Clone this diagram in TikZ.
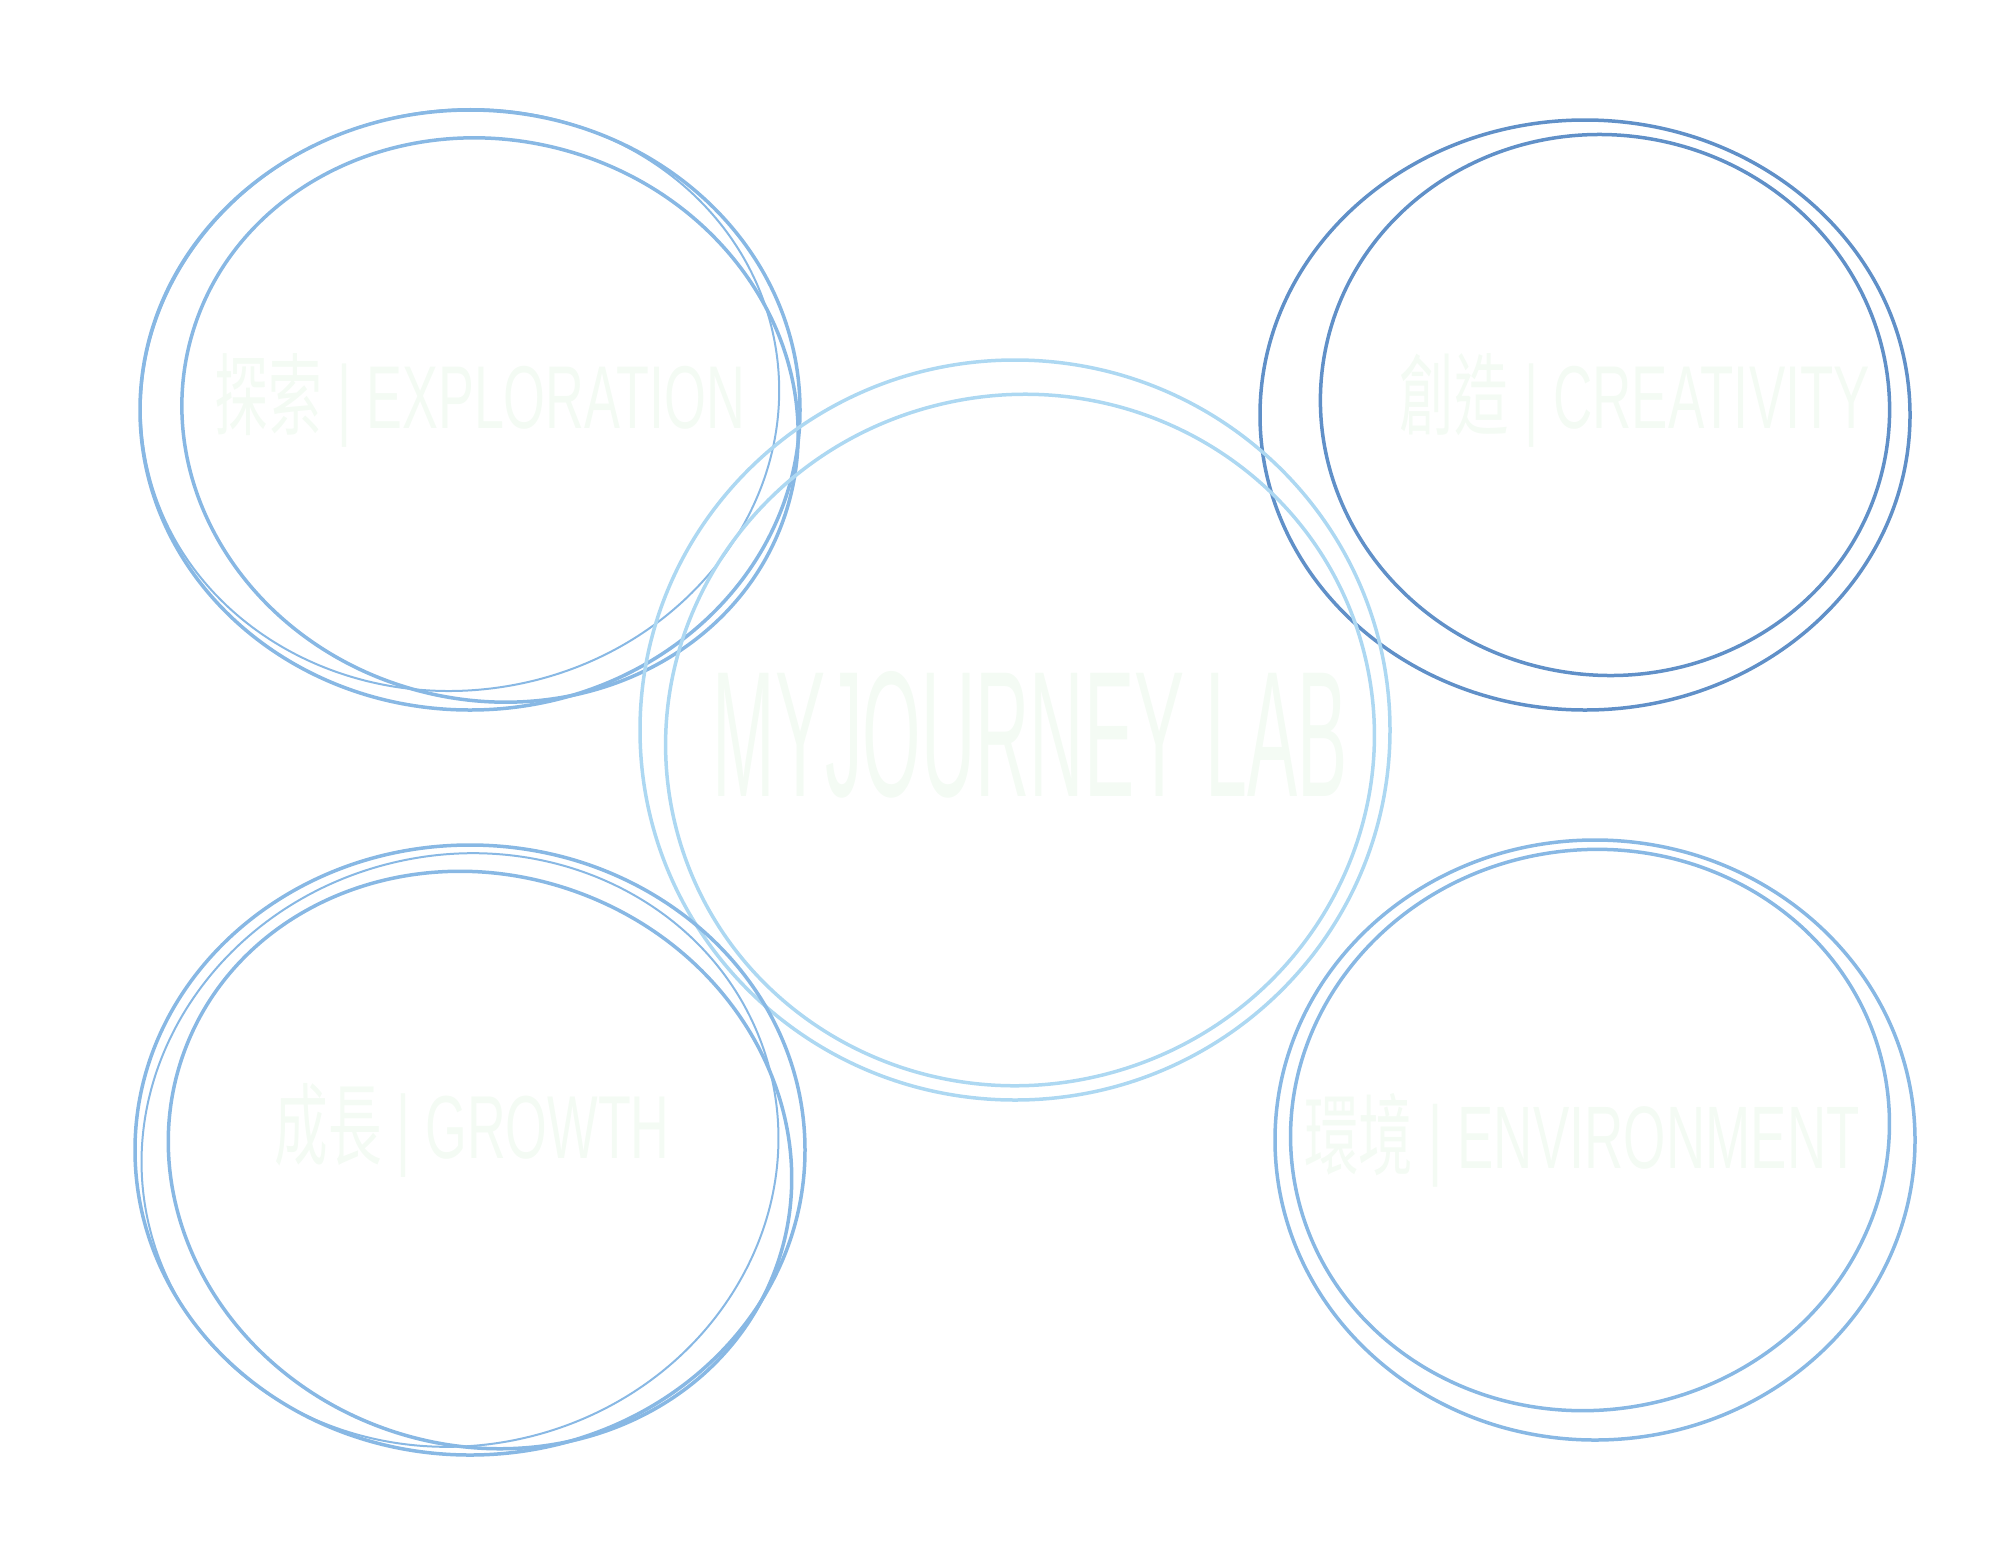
\documentclass[tikz,border=0pt]{standalone}
\usepackage{fontspec}
\setmainfont{Liberation Sans}
\newfontfamily\cjk{Noto Sans CJK TC}
\definecolor{ringA}{HTML}{88B8E4}
\definecolor{ringB}{HTML}{6090C8}
\definecolor{ringC}{HTML}{ADD8F2}
\definecolor{txt}{HTML}{F4FBF4}
\begin{document}
\begin{tikzpicture}[x=1pt,y=-1pt,
  ring/.style={line width=3.5pt,line cap=round},
  lab/.style={text=txt,inner sep=0pt}]
\useasboundingbox (0,0) rectangle (1999,1545);
% top-left
\draw[ring,ringA] (470,410) ellipse [x radius=330,y radius=300];
\draw[ring,ringA,rotate around={-15:(490,420)}] (490,420) ellipse [x radius=310,y radius=280];
\draw[ring,ringA,line width=2pt,rotate around={10:(460,400)}] (460,400) ellipse [x radius=320,y radius=290];
% top-right
\draw[ring,ringB] (1585,415) ellipse [x radius=325,y radius=295];
\draw[ring,ringB,rotate around={-10:(1605,405)}] (1605,405) ellipse [x radius=285,y radius=270];
% center
\draw[ring,ringC] (1015,730) ellipse [x radius=375,y radius=370];
\draw[ring,ringC,rotate around={15:(1020,740)}] (1020,740) ellipse [x radius=355,y radius=345];
% bottom-left
\draw[ring,ringA] (470,1150) ellipse [x radius=335,y radius=305];
\draw[ring,ringA,rotate around={-20:(480,1160)}] (480,1160) ellipse [x radius=315,y radius=285];
\draw[ring,ringA,line width=2pt,rotate around={15:(460,1150)}] (460,1150) ellipse [x radius=320,y radius=295];
% bottom-right
\draw[ring,ringA] (1595,1140) ellipse [x radius=320,y radius=300];
\draw[ring,ringA,rotate around={10:(1590,1130)}] (1590,1130) ellipse [x radius=300,y radius=280];
% labels
\node[lab] (c) at (1030,735) {\resizebox{635pt}{125pt}{MYJOURNEY LAB}};
\node[lab] (tl) at (480,400) {\resizebox{530pt}{75pt}{{\cjk 探索} | EXPLORATION}};
\node[lab] (tr) at (1635,400) {\resizebox{470pt}{75pt}{{\cjk 創造} | CREATIVITY}};
\node[lab] (bl) at (472,1130) {\resizebox{395pt}{75pt}{{\cjk 成長} | GROWTH}};
\node[lab] (br) at (1582,1140) {\resizebox{555pt}{75pt}{{\cjk 環境} | ENVIRONMENT}};
\end{tikzpicture}
\end{document}
